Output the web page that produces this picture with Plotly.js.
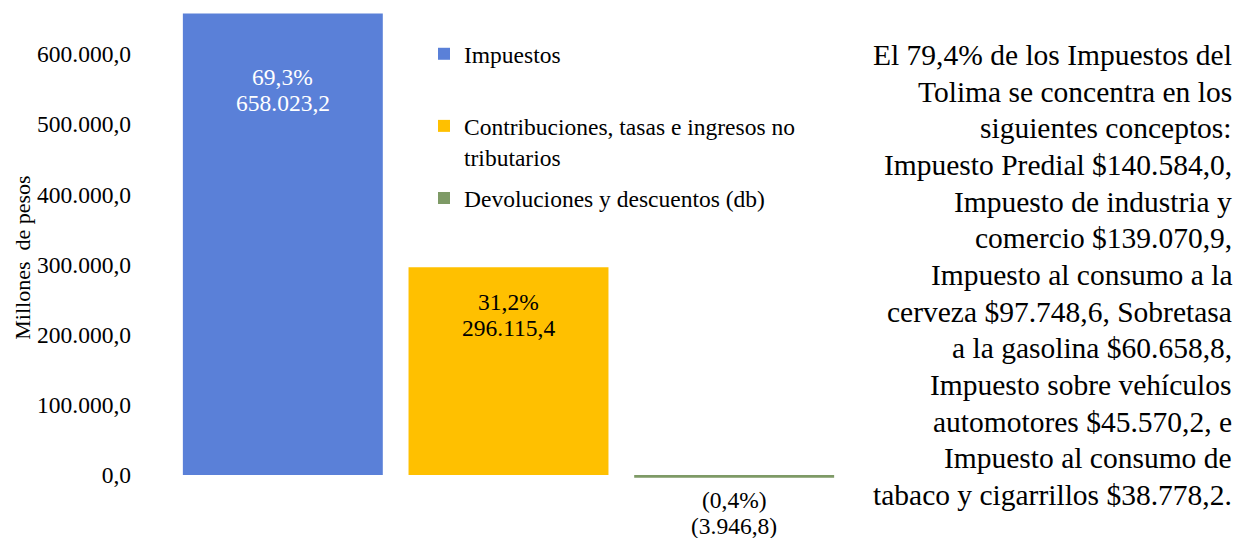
<!DOCTYPE html>
<html>
<head>
<meta charset="utf-8">
<script src="https://cdn.plot.ly/plotly-3.0.1.min.js"></script>
<style>html,body{margin:0;padding:0;background:#fff;}#chart{width:1241px;height:538px;}</style>
</head>
<body>
<div id="chart"></div>
<script>
// ---- data ----
var categories = ["Impuestos", "Contribuciones, tasas e ingresos no<br>tributarios", "Devoluciones y descuentos (db)"];
var values = [658023.2, 296115.4, -3946.8];
var shares = [69.3, 31.2, -0.4];
var colors = ["#5A80D8", "#FFC000", "#7E9A66"];
var labelColors = ["#FFFFFF", "#000000", "#000000"];
var yTicks = [0, 100000, 200000, 300000, 400000, 500000, 600000];
var noteLines = [
  "El 79,4% de los Impuestos del",
  "Tolima se concentra en los",
  "siguientes conceptos:",
  "Impuesto Predial $140.584,0,",
  "Impuesto de industria y",
  "comercio $139.070,9,",
  "Impuesto al consumo a la",
  "cerveza $97.748,6, Sobretasa",
  "a la gasolina $60.658,8,",
  "Impuesto sobre vehículos",
  "automotores $45.570,2, e",
  "Impuesto al consumo de",
  "tabaco y cigarrillos $38.778,2."
];

function fmtEs(v) {
  var neg = v < 0;
  var a = Math.abs(v).toFixed(1).split(".");
  var intPart = a[0].replace(/\B(?=(\d{3})+(?!\d))/g, ".");
  var s = intPart + "," + a[1];
  return neg ? "(" + s + ")" : s;
}
function fmtPct(p) {
  var s = Math.abs(p).toFixed(1).replace(".", ",") + "%";
  return p < 0 ? "(" + s + ")" : s;
}

var FONT = "Liberation Serif, Times New Roman, serif";
var FS = 23.5;

// pad single-line legend names to two lines so entries are evenly spaced
function legendName(c) {
  return c.indexOf("<br>") >= 0 ? c : c + "<br>\u00a0";
}

var traces = categories.map(function (c, i) {
  return {
    type: "bar",
    name: legendName(c),
    x: [i],
    y: [values[i]],
    marker: {color: colors[i]},
    legendgroup: "g" + i,
    hoverinfo: "skip"
  };
});

var plotTop = 12, plotBottom = 503, plotLeft = 170, plotRight = 847;
var W = plotRight - plotLeft, H = plotBottom - plotTop;

var annotations = [];
var pctShift = [-64, -35, -22];
var lineGap = 26;
values.forEach(function (v, i) {
  annotations.push({
    x: i, y: v, xref: "x", yref: "y",
    text: fmtPct(shares[i]),
    showarrow: false, yanchor: "middle",
    yshift: pctShift[i],
    font: {family: FONT, size: FS, color: labelColors[i]}
  });
  annotations.push({
    x: i, y: v, xref: "x", yref: "y",
    text: fmtEs(v),
    showarrow: false, yanchor: "middle",
    yshift: pctShift[i] - lineGap,
    font: {family: FONT, size: FS, color: labelColors[i]}
  });
});

noteLines.forEach(function (t, i) {
  var py = 55 + i * 36.67;
  annotations.push({
    xref: "paper", yref: "paper",
    x: (1234 - plotLeft) / W,
    y: (plotBottom - py) / H,
    xanchor: "right", yanchor: "middle",
    text: t, showarrow: false,
    font: {family: FONT, size: 29.5, color: "#000"}
  });
});

var layout = {
  width: 1241, height: 538,
  margin: {l: plotLeft, r: 1241 - plotRight, t: plotTop, b: 538 - plotBottom, pad: 0},
  paper_bgcolor: "#fff", plot_bgcolor: "#fff",
  separators: ",.",
  font: {family: FONT, size: FS, color: "#000"},
  barmode: "overlay",
  bargap: 0.114,
  showlegend: true,
  legend: {
    x: (424 - plotLeft) / W, y: (plotBottom - 32) / H,
    xanchor: "left", yanchor: "top",
    traceorder: "grouped",
    tracegroupgap: 8,
    valign: "top",
    itemwidth: 30,
    font: {family: FONT, size: FS, color: "#000"},
    bgcolor: "rgba(0,0,0,0)"
  },
  xaxis: {
    range: [-0.5, 2.5], automargin: false,
    showticklabels: false, showgrid: false, zeroline: false, showline: false, ticks: ""
  },
  yaxis: {
    range: [-40000, 660000], automargin: false,
    tickvals: yTicks,
    tickformat: ",.1f",
    showgrid: false, zeroline: false, showline: false, ticks: "",
    ticklabelstandoff: 38,
    tickfont: {family: FONT, size: FS, color: "#000"},
    title: {text: "Millones\u00a0 de pesos", font: {family: FONT, size: 22, color: "#000"}}
  },
  annotations: annotations
};

Plotly.newPlot("chart", traces, layout, {displayModeBar: false, staticPlot: true});
</script>
</body>
</html>
